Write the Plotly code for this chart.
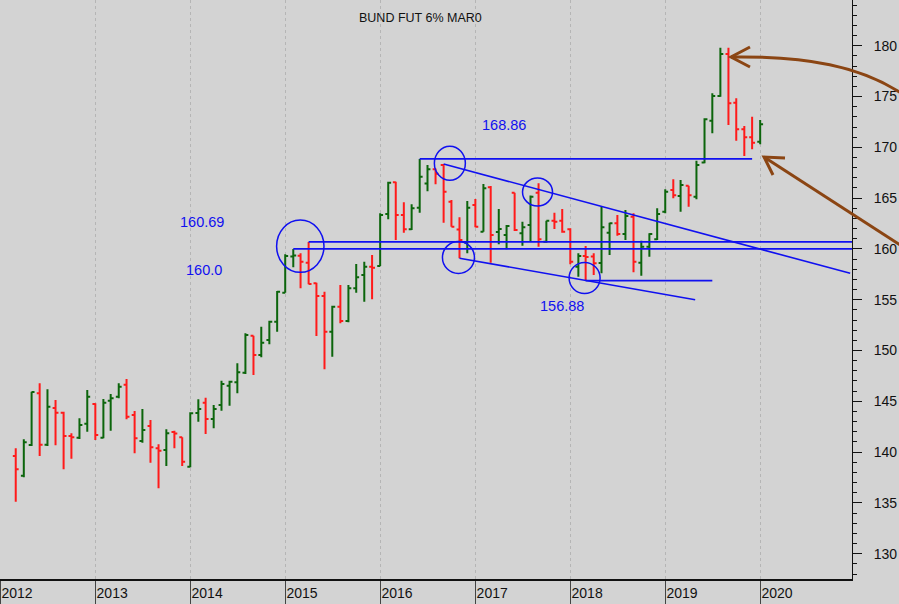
import pandas as pd
import plotly.graph_objects as go

# ---------------- data (monthly bars, Mar 2012 .. Jan 2020) ----------------
months = pd.date_range("2012-03-01", "2020-01-01", freq="MS")

open_ = [
    139.62, 137.68, 140.70, 145.79, 140.73, 144.34, 143.88, 141.59, 141.42, 142.80,
    144.74, 141.42, 145.06, 145.45, 146.64, 143.65, 141.09, 142.57, 140.38, 140.21, 141.98, 141.46,
    138.57, 143.85, 144.86, 143.26, 144.64, 146.54, 146.87, 147.82, 151.46, 149.56, 151.04, 152.84,
    155.69, 159.25, 159.33, 158.64, 156.62, 155.37, 151.85, 154.31, 152.91, 156.12, 157.43, 158.25,
    158.32, 163.44, 166.56, 163.34, 161.93, 164.06, 166.43, 167.84, 168.26, 164.65, 161.91, 160.61,
    164.32, 161.70, 166.07, 161.67, 161.37, 165.53, 161.54, 162.35, 165.53, 160.71, 162.78, 162.78,
    161.93, 158.25, 159.30, 159.25, 158.61, 161.60, 162.52, 161.47, 163.17, 158.64, 160.22, 160.95,
    163.66, 165.80, 165.21, 166.22, 165.14, 168.51, 172.62, 175.05, 179.19, 174.39, 171.77, 170.99,
    170.55,
]
high = [
    140.38, 141.26, 145.95, 146.77, 146.18, 145.13, 143.98, 141.85, 143.33, 146.11,
    144.81, 145.23, 145.72, 146.77, 147.20, 144.05, 144.24, 143.16, 140.77, 142.25, 142.11, 141.46,
    143.92, 145.20, 145.36, 144.64, 147.03, 147.03, 148.74, 151.70, 151.46, 152.35, 152.94, 155.86,
    159.47, 160.00, 159.57, 160.69, 156.67, 155.79, 154.41, 156.45, 156.45, 158.52, 158.74, 159.40,
    163.51, 166.62, 166.62, 164.59, 164.39, 168.86, 168.26, 167.91, 168.36, 164.82, 163.11, 164.72,
    164.91, 166.39, 166.19, 163.93, 162.35, 165.53, 162.68, 165.25, 166.46, 162.78, 163.57, 163.93,
    162.03, 159.57, 160.29, 159.57, 164.13, 162.58, 163.34, 163.83, 163.51, 160.81, 161.54, 164.00,
    165.87, 166.85, 166.78, 166.22, 168.68, 172.86, 175.32, 179.80, 179.80, 174.82, 172.10, 173.01,
    172.69,
]
low = [
    135.12, 137.52, 140.60, 139.62, 140.60, 140.67, 138.31, 139.35, 141.29, 142.01,
    141.19, 141.36, 142.11, 145.30, 143.23, 139.88, 140.93, 138.96, 136.44, 138.63, 140.38, 138.63,
    138.51, 142.99, 141.78, 142.34, 144.08, 144.57, 145.79, 147.69, 147.59, 149.33, 150.61, 151.85,
    155.69, 158.19, 156.12, 156.52, 151.43, 148.15, 149.39, 152.68, 152.78, 155.69, 154.81, 155.04,
    158.32, 162.92, 160.88, 161.60, 161.86, 163.57, 165.68, 166.37, 162.58, 162.19, 159.08, 159.57,
    162.13, 161.70, 158.64, 160.46, 159.96, 161.76, 160.32, 160.71, 160.22, 160.61, 161.96, 161.60,
    158.49, 157.27, 156.88, 157.43, 157.60, 159.40, 161.30, 160.88, 157.70, 157.36, 159.23, 160.88,
    163.51, 164.98, 163.66, 164.16, 164.88, 168.43, 171.38, 174.98, 172.20, 170.65, 169.15, 169.81,
    170.30,
]
close = [
    138.31, 140.97, 145.92, 140.73, 144.47, 143.88, 141.59, 141.46, 142.67, 145.45,
    141.69, 144.86, 145.30, 146.44, 143.49, 141.36, 142.18, 140.47, 140.14, 141.85, 141.83, 139.06,
    143.82, 144.24, 143.26, 144.24, 146.71, 146.93, 147.86, 151.53, 149.56, 150.77, 152.84, 155.79,
    159.30, 159.35, 158.74, 156.55, 155.37, 151.85, 154.31, 152.91, 156.12, 157.21, 158.25, 158.15,
    163.34, 166.52, 163.34, 161.93, 164.00, 167.11, 167.85, 167.41, 165.63, 162.19, 160.88, 164.06,
    162.19, 165.97, 161.37, 161.96, 162.26, 161.86, 162.13, 165.14, 160.95, 162.78, 162.68, 161.70,
    158.74, 159.30, 159.21, 158.59, 162.13, 162.52, 161.47, 163.24, 158.74, 160.22, 161.47, 163.44,
    165.63, 165.28, 166.29, 165.28, 168.26, 172.76, 175.05, 179.19, 174.33, 171.77, 170.99, 170.46,
    172.27,
]

title_text = "BUND FUT 6% MAR0"

# support / resistance levels and their labels
level_labels = ["168.86", "160.69", "160.0", "156.88"]

# trend lines: (start date, start price, end date, end price)
trend_lines = [
    ("2016-06-01", 168.86, "2019-12-01", 168.86),
    ("2015-04-01", 160.69, "2020-12-19", 160.69),
    ("2015-02-01", 160.00, "2020-12-19", 160.00),
    ("2016-09-01", 168.36, "2020-12-12", 157.60),
    ("2016-11-01", 159.08, "2019-04-26", 155.00),
    ("2018-03-01", 156.88, "2019-07-01", 156.88),
]
# highlighted turning points: (centre date, centre price)
circle_centres = [
    ("2015-02-28", 160.27),
    ("2016-09-25", 168.43),
    ("2016-10-28", 159.16),
    ("2017-08-28", 165.60),
    ("2018-02-25", 157.14),
]

# ---------------- layout geometry ----------------
FIG_W, FIG_H = 899, 604
M_L, M_R, M_T, M_B = 0, 47, 0, 25
PLOT_W = FIG_W - M_L - M_R
PLOT_H = FIG_H - M_T - M_B
X_RANGE = ["2011-12-31 12:00", "2020-12-19"]
Y_RANGE = [127.51, 184.5]

xr0, xr1 = pd.Timestamp(X_RANGE[0]), pd.Timestamp(X_RANGE[1])
TD_PER_PX = (xr1 - xr0) / PLOT_W
PRICE_PER_PX = (Y_RANGE[1] - Y_RANGE[0]) / PLOT_H


def px(xp):
    return xp / PLOT_W


def py(yp):
    return 1 - yp / PLOT_H


def ppath(cmds):
    out = []
    for c in cmds:
        if isinstance(c, str):
            out.append(c)
        else:
            out.append(f"{px(c[0]):.5f},{py(c[1]):.5f}")
    return " ".join(out)


GREEN = "#0c650c"
RED = "#ff1a1a"
BLUE = "#1010f0"
BROWN = "#8b4513"
BG = "#d3d3d3"
FONT = "Liberation Sans, Arial, sans-serif"

fig = go.Figure(
    go.Ohlc(
        x=months, open=open_, high=high, low=low, close=close,
        increasing=dict(line=dict(color=GREEN, width=2)),
        decreasing=dict(line=dict(color=RED, width=2)),
        tickwidth=0.4, showlegend=False, hoverinfo="skip",
    )
)

shapes = []
for (d0, p0, d1, p1) in trend_lines:
    shapes.append(dict(type="line", xref="x", yref="y", x0=d0, y0=p0, x1=d1, y1=p1,
                       line=dict(color=BLUE, width=1.6), layer="above"))

radii_px = [(23.7, 26.2), (15.5, 17.0), (16.0, 16.0), (15.0, 14.0), (15.5, 15.5)]
for (d, p), (rx, ry) in zip(circle_centres, radii_px):
    c = pd.Timestamp(d)
    shapes.append(dict(type="circle", xref="x", yref="y",
                       x0=c - TD_PER_PX * rx, x1=c + TD_PER_PX * rx,
                       y0=p - PRICE_PER_PX * ry, y1=p + PRICE_PER_PX * ry,
                       line=dict(color=BLUE, width=1.5), layer="above"))

# brown arrows (drawn in paper space, they run past the axis)
shapes += [
    dict(type="path", xref="paper", yref="paper",
         path=ppath(["M", (731, 57), "C", (800, 56), (865, 64), (912, 101)]),
         line=dict(color=BROWN, width=3)),
    dict(type="path", xref="paper", yref="paper",
         path=ppath(["M", (750, 47), "L", (731, 57), "L", (750, 67)]),
         line=dict(color=BROWN, width=3)),
    dict(type="path", xref="paper", yref="paper",
         path=ppath(["M", (764, 157), "L", (908, 250)]),
         line=dict(color=BROWN, width=3)),
    dict(type="path", xref="paper", yref="paper",
         path=ppath(["M", (785, 158), "L", (764, 157), "L", (773, 175)]),
         line=dict(color=BROWN, width=3)),
]

annotations = [
    dict(text=title_text, x=px(420.5), y=py(18), xref="paper", yref="paper",
         showarrow=False, font=dict(size=12.5, color="#111111", family=FONT),
         xanchor="center", yanchor="middle"),
]
label_pos = [(504, 125), (201.5, 222), (204, 270), (562, 306)]
for t, (lx, ly) in zip(level_labels, label_pos):
    annotations.append(dict(text=t, x=px(lx), y=py(ly), xref="paper", yref="paper",
                            showarrow=False, font=dict(size=14.5, color=BLUE, family=FONT),
                            xanchor="center", yanchor="middle"))

fig.update_layout(
    width=FIG_W, height=FIG_H,
    margin=dict(l=M_L, r=M_R, t=M_T, b=M_B, pad=0, autoexpand=False),
    paper_bgcolor=BG, plot_bgcolor=BG,
    font=dict(family=FONT, color="#111111"),
    shapes=shapes, annotations=annotations,
    hovermode=False, showlegend=False,
    xaxis=dict(
        type="date", range=X_RANGE, rangeslider=dict(visible=False),
        tick0="2012-01-01", dtick="M12", tickformat="%Y",
        ticks="outside", ticklen=25, tickcolor="#444444", tickwidth=1,
        ticklabelposition="outside right", ticklabelstandoff=0,
        tickfont=dict(size=14, color="#111111"),
        showgrid=True, gridcolor="#b5b5b5", griddash="dot", gridwidth=1,
        showline=True, linecolor="#111111", linewidth=1.5,
        zeroline=False, fixedrange=True, automargin=False,
    ),
    yaxis=dict(
        side="right", range=Y_RANGE, tick0=130, dtick=5,
        ticks="outside", ticklen=9, tickcolor="#111111", tickwidth=1,
        tickfont=dict(size=14, color="#111111"), ticklabelstandoff=9,
        minor=dict(dtick=1, ticks="outside", ticklen=4, tickcolor="#111111", showgrid=False),
        showgrid=False, showline=True, linecolor="#111111", linewidth=1,
        zeroline=False, fixedrange=True, automargin=False,
    ),
)

fig.write_html("out.html", config={"displayModeBar": False},
               post_script="document.body.style.margin='0';")
